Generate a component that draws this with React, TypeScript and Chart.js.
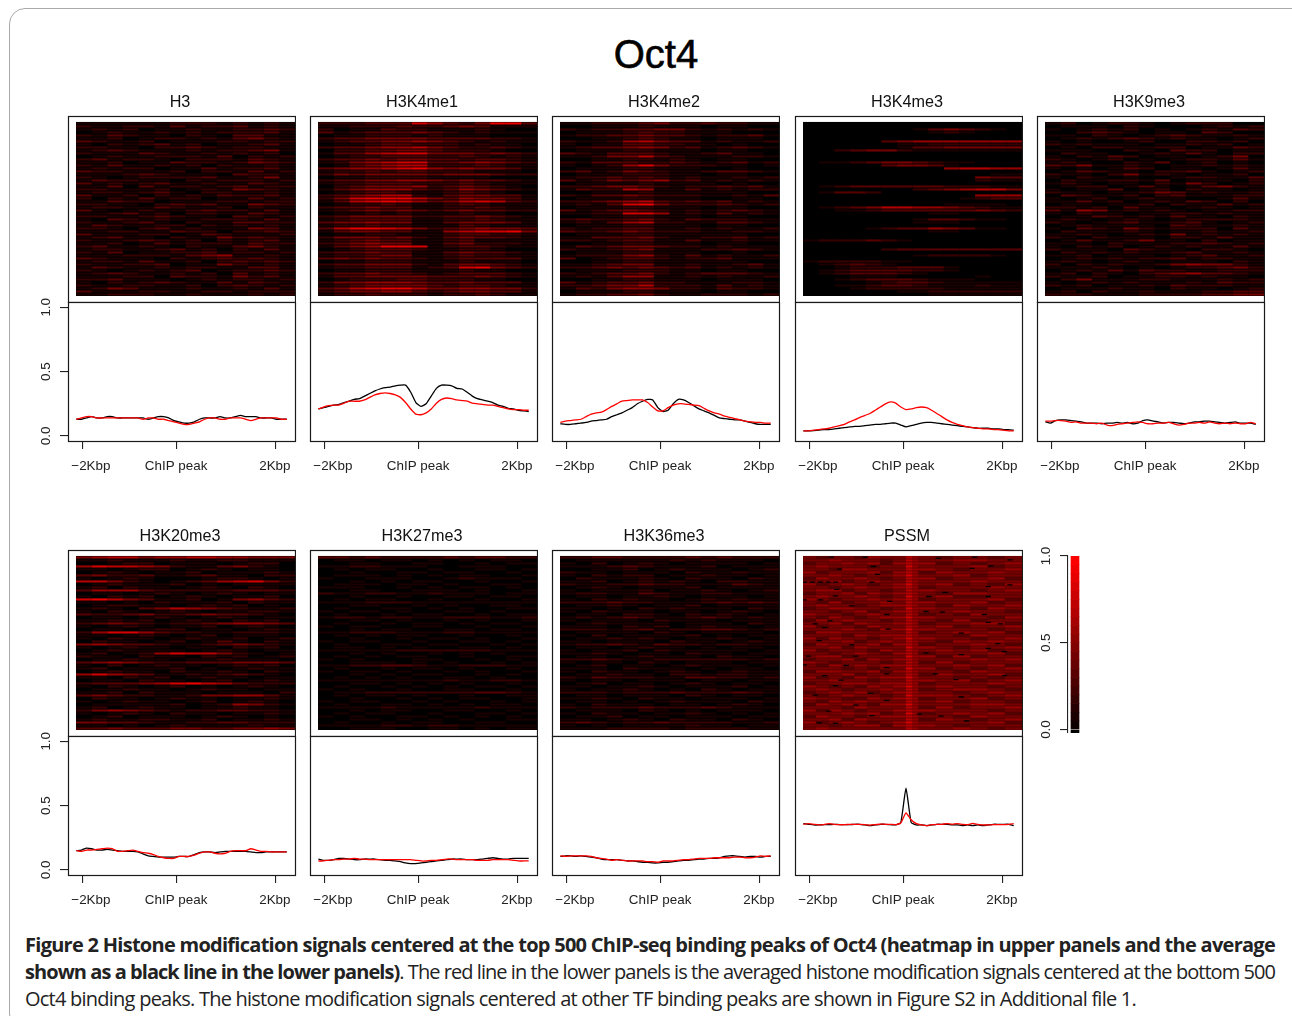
import React, { useEffect, useLayoutEffect, useRef } from "react";
import { Chart, registerables } from "chart.js";

Chart.register(...registerables);
Chart.defaults.font.family = "'Liberation Sans', Arial, sans-serif";
Chart.defaults.color = "#222";

const panelNames = ["H3", "H3K4me1", "H3K4me2", "H3K4me3", "H3K9me3", "H3K20me3", "H3K27me3", "H3K36me3", "PSSM"];
const xTickLabels = ["\u22122Kbp", "ChIP peak", "2Kbp"];
const xTickValues = [-2, -0.06, 2];
const xLabelValues = [-1.82, -0.06, 1.98];
const yTickValues = [0, 0.5, 1];
const levelRed = [0, 26, 54, 84, 116, 148, 180, 210, 235, 255];
const colorbarLevels = [-0.02, 0, 0.05, 0.1, 0.15, 0.2, 0.25, 0.3, 0.35, 0.4, 0.45, 0.5, 0.55, 0.6, 0.65, 0.7, 0.75, 0.8, 0.85, 0.9, 0.95, 1];
const positions = [-2.12, -2.014, -1.908, -1.802, -1.696, -1.59, -1.484, -1.378, -1.272, -1.166, -1.06, -0.954, -0.848, -0.742, -0.636, -0.53, -0.424, -0.318, -0.212, -0.106, 0, 0.106, 0.212, 0.318, 0.424, 0.53, 0.636, 0.742, 0.848, 0.954, 1.06, 1.166, 1.272, 1.378, 1.484, 1.59, 1.696, 1.802, 1.908, 2.014, 2.12, 2.226];

const h3Top = [.13,.13,.14,.15,.14,.14,.15,.15,.14,.14,.14,.14,.14,.14,.13,.14,.15,.15,.14,.12,.11,.10,.10,.11,.13,.14,.14,.14,.15,.14,.14,.15,.16,.15,.15,.15,.14,.14,.14,.13,.13,.13];
const h3Bottom = [.13,.14,.15,.15,.14,.14,.14,.14,.14,.14,.14,.14,.14,.13,.14,.14,.13,.13,.12,.11,.10,.09,.09,.10,.11,.13,.14,.14,.13,.13,.14,.14,.14,.13,.12,.13,.14,.14,.14,.14,.13,.13];
const k4me1Top = [.21,.22,.23,.24,.245,.26,.27,.285,.29,.31,.33,.35,.365,.375,.38,.39,.395,.395,.34,.26,.23,.25,.31,.37,.395,.395,.39,.37,.365,.34,.31,.29,.28,.27,.26,.24,.23,.215,.21,.20,.195,.19];
const k4me1Bottom = [.21,.225,.235,.24,.24,.255,.27,.27,.27,.28,.30,.32,.33,.335,.33,.32,.30,.26,.21,.17,.165,.18,.21,.255,.285,.295,.29,.28,.275,.27,.255,.25,.245,.24,.24,.23,.22,.21,.205,.205,.20,.20];
const k4me2Top = [.095,.09,.09,.095,.10,.105,.115,.12,.125,.13,.15,.165,.18,.20,.22,.25,.27,.285,.28,.22,.19,.20,.25,.285,.28,.26,.235,.21,.195,.18,.16,.14,.135,.13,.125,.125,.115,.105,.095,.09,.09,.09];
const k4me2Bottom = [.105,.115,.12,.125,.13,.15,.17,.18,.185,.205,.23,.25,.27,.275,.28,.28,.28,.26,.225,.195,.195,.22,.24,.25,.25,.245,.24,.235,.215,.195,.18,.17,.155,.145,.135,.125,.115,.11,.105,.105,.10,.10];
const k4me3Top = [.04,.04,.042,.045,.05,.05,.055,.06,.065,.07,.075,.075,.08,.085,.09,.09,.095,.10,.10,.085,.07,.08,.09,.10,.105,.105,.10,.095,.09,.085,.08,.075,.07,.065,.06,.06,.06,.055,.055,.05,.05,.045];
const k4me3Bottom = [.04,.04,.045,.05,.055,.06,.07,.08,.09,.11,.125,.145,.16,.175,.20,.225,.25,.265,.255,.225,.205,.21,.22,.225,.22,.20,.175,.15,.125,.105,.09,.08,.07,.065,.06,.055,.055,.05,.05,.045,.04,.04];
const k9me3Top = [.11,.10,.12,.125,.125,.12,.115,.11,.10,.10,.10,.095,.10,.10,.105,.10,.105,.095,.10,.12,.125,.115,.11,.10,.105,.105,.10,.095,.10,.11,.11,.115,.115,.11,.105,.10,.105,.11,.10,.10,.10,.09];
const k9me3Bottom = [.115,.115,.12,.12,.115,.105,.11,.10,.10,.10,.095,.10,.085,.08,.09,.095,.10,.105,.11,.105,.095,.095,.10,.10,.105,.095,.085,.09,.10,.10,.105,.10,.11,.10,.095,.10,.095,.10,.095,.095,.105,.095];
const k20me3Top = [.15,.155,.17,.165,.155,.155,.16,.155,.15,.145,.145,.145,.14,.125,.11,.105,.10,.10,.10,.10,.105,.105,.105,.12,.135,.14,.14,.135,.14,.145,.145,.145,.145,.145,.14,.135,.135,.14,.14,.14,.14,.14];
const k20me3Bottom = [.15,.145,.155,.155,.16,.165,.17,.165,.145,.145,.15,.155,.145,.135,.13,.12,.105,.095,.09,.09,.105,.105,.105,.115,.13,.14,.14,.13,.125,.13,.145,.15,.15,.15,.165,.155,.145,.145,.14,.14,.14,.14];
const k27me3Top = [.085,.075,.075,.08,.09,.09,.085,.08,.08,.085,.085,.085,.08,.075,.075,.07,.065,.055,.05,.05,.055,.06,.065,.07,.075,.08,.085,.085,.085,.08,.08,.08,.085,.09,.095,.09,.085,.085,.09,.09,.09,.09];
const k27me3Bottom = [.07,.07,.075,.08,.08,.085,.085,.09,.085,.085,.08,.08,.08,.08,.08,.08,.08,.08,.08,.075,.07,.07,.075,.075,.08,.085,.085,.08,.08,.08,.08,.075,.075,.075,.08,.08,.08,.08,.075,.07,.07,.07];
const k36me3Top = [.105,.11,.11,.105,.11,.105,.10,.095,.085,.08,.08,.08,.075,.07,.07,.065,.06,.06,.055,.055,.06,.06,.065,.07,.075,.075,.08,.085,.085,.09,.09,.095,.105,.11,.11,.105,.10,.105,.105,.10,.105,.105];
const k36me3Bottom = [.11,.105,.11,.11,.11,.11,.105,.095,.09,.085,.075,.08,.075,.07,.07,.07,.07,.065,.065,.06,.07,.07,.07,.075,.08,.08,.085,.09,.09,.09,.095,.095,.095,.095,.10,.10,.095,.095,.10,.11,.105,.11];
const pssmTop = [.36,.355,.35,.35,.352,.352,.355,.353,.352,.352,.355,.355,.35,.345,.35,.355,.355,.352,.35,.37,.635,.37,.35,.35,.345,.35,.355,.355,.355,.35,.35,.345,.35,.345,.35,.345,.35,.355,.355,.355,.355,.345];
const pssmBottom = [.355,.36,.355,.35,.353,.36,.355,.352,.352,.355,.355,.355,.352,.348,.352,.357,.355,.355,.352,.365,.443,.39,.36,.35,.345,.352,.355,.355,.36,.355,.36,.355,.352,.362,.355,.35,.35,.352,.352,.352,.355,.36];

const h3Rows = `11111122212121 21122131223121 12120112112232 01211212122231 21321102103311 11201221213421 32112011122122 10212312011231 22110223212211 12321112122341 21113211212120 01211222130212 23122102221321 11201132212432 21311212021121 12122011312231 32211120221312 11123211103221 21012222311241 13221102122212 31212311211321 11303122123122 22111201214321 12212310221121 31120212132231 20213122011312 11322011122122 22110232311432 12211321120211 31012112322131 11231202211321 22112321103212 10321211222131 21123102113322 13211220212121 22102312111431 11221132202232 31112201321112 12311021142321 21123212021231 11201312221322 23112102113421 12211231202131 21301122312212 11122213451121 32111021232321 12213112023232 21122301142121 13211212211331 21012123012232 12321121203121 11122032214231 22311101212212 10212321131321 21122112023212 12431112112131 31112211221222 11222112111212`.split(" ");
const k4me1Rows = `22233375324883 11222322343111 20113221112100 31233343212111 01122212111000 23344443333221 12334454321211 01123322212110 23345564322321 02233443222100 13356774443432 01223332232121 23343443323321 12456773345432 01345662223211 34556785454431 12232332221110 24344443444322 01122221111000 23344554343321 12233322232111 02344452343210 13455532354321 01233211232100 23456621344331 24788864354431 13678753467632 01223211232111 23343311223211 12343432343322 01121211121100 23444422334321 12333311223211 34454411344431 12232211132111 36887642345443 13443311567784 01122111233221 24443421343321 12343311231111 23454411342221 13458871233211 01233321122100 23343311343321 12234411232211 34343321233331 01122211121110 23344421344321 12233312378432 01122211121100 23343321233321 13344443334321 01222332221100 24455543343331 12344443233211 34678864455442 23445532344331 12232221223211`.split(" ");
const k4me2Rows = `11222342232211 00111211101100 21223344212121 01112322111000 12233433212231 00112321101110 21125643312112 10113322110100 12334542312321 01112211101100 32133321123110 11244632111221 00112212101100 21333223212312 10125742221101 01112211100100 23124321123321 01112221101100 12232321211212 31243452312121 01111211110100 22344321223231 13226511312122 00111211111100 21334322211213 01112211100110 22345632323121 12137842223212 01112211101100 31234321212321 11227751213121 00112211101100 23223421322211 12135622113321 01112211101100 21223311212112 32234322211221 01112211111100 11333421122312 22123311311211 00112211101100 13234432212111 21123411122321 01112211100100 12224521312112 30123321223111 00112211111100 11234411211231 22343432312121 01112221101100 21233421233321 12135511212112 00112211101110 31233422111221 22344622213121 13245542213221 01112211101100 12233421122212`.split(" ");
const k4me3Rows = `00000000000000 00000000000000 00000001343210 00000000121000 00000000000000 00000000000000 00000345555555 00000011222222 00000013344444 00234421111111 00000000000000 00000000000000 00000000000000 01123443211000 00000344310000 00000000056655 00000000000000 00000000000011 00000000000433 00000000000211 00000000000000 01233333322211 00000002345664 01332000000000 00000000000555 00000000001233 00000000000000 00000000011110 01234665543211 00112333333432 00000000110000 00000000000000 00000001332110 00000001110000 00000000000000 00001233543110 00000000110000 00000000000000 00000000000000 12223210000000 00000000000000 00000000000000 00000233333333 00000000000000 00000001222210 00000000000000 12222110000000 01232100000000 00122233310000 01233332210000 01233321000000 00011100000100 00123332111000 00001233211111 00112332111211 00012222211111 00000011222222 00000000111111`.split(" ");
const k9me3Rows = `12012210122200 01110210001212 10121201012132 00232101103200 11021012321121 01212321211012 10100120022120 21211101121201 01022112201132 11100210322011 02110012131022 10213201101240 21012010122131 12100213012010 32411210112121 10101320110131 01321102231012 21102412101120 10210100122113 02112213011102 12101102142012 01220131013421 10113012021101 21101124312112 03211202311122 10120121100131 11312012132020 01101120211312 22120311012101 31541212101122 10211011221211 01132121311021 12101210122221 21012311231012 01211110321121 10321421222031 02111210112112 11210121412121 21021110221311 01311241102011 11102111223212 10212012121131 21110321102210 02121211231121 11201110123112 01212122312211 12101210111021 20212112454421 11121010122342 01213132211222 12021023453321 21120112212110 02411122111212 10121211121322 21201121322211 01112110211012 12021121112233 22211122223344`.split(" ");
const k20me3Rows = `45664556655444 11211121122111 00122011101220 57665421134210 11012201210110 01210112011121 34223112311022 10121000122101 66421012356742 01211120101111 12021101210210 35553222223332 01101210121011 10212012101120 78643112014532 11010211120211 01221101212010 12103465432112 10210121011221 32234223433210 01101210121011 11212012102120 23432122345543 10121011201210 01101220110121 25775322112221 11012101201110 10211012112012 02110120131021 45433211234321 10121101102120 01211110121011 12012576642101 21102110212012 01121101121110 34543223334443 10201211012120 12011120101211 01211021121021 57543112123210 11021201211011 01102110120121 23334578653222 10210120101210 01121101211011 11202111011102 34322112445531 02110121101121 10121101201210 01111120125421 12012110112110 24543212233221 10121021101121 01201110121010 12112211201121 44332112233222 11010121111211 33433344334454`.split(" ");
const k27me3Rows = `33232222323322 01101101010110 00110011001011 11221110011100 01011001001101 00100110110010 01110101011001 10011100121110 00101011001001 01110110100110 11100101011010 00110011101001 21122112111011 00100100110110 01011001001001 11122211111111 00110010100110 01001101010011 10110100110100 01001011001011 12212211222112 00110100101001 01001011010110 10110011001001 00101100110110 11222111221111 01010110010010 00100101101001 10110010011010 01001101100101 01101010011010 11111222222111 00101001010100 01010110010011 10100011001010 00111010100101 11223321122211 01001011010010 10110100101001 00101011001010 01010100110100 11111111211221 00110101010010 01001010101101 10100100110010 01122222223321 01011010010011 00100101011001 10110010100101 01001101010110 11112111112111 00101100110010 01011001001101 10100110101010 00110101010011 01001011001100 11112212211111 00111001101011`.split(" ");
const k36me3Rows = `22332222323222 01111112121110 10201210111101 11123211120111 00112012111012 21101110211211 10212201121101 02111210211021 11201212102211 21122322111321 01210111201111 10111201121012 12211321122111 01101121011101 10212110121211 22232211123232 01121011201111 11010212111021 10211101101210 01102210212101 12123211232121 10111021110111 01211110111021 11102120121101 22212312233212 01111021011110 10201111201011 01121210112101 11011102110121 12232132212211 01101211010110 10112021111101 11210110211011 01101211102110 22321122222212 10110210111011 01201101211101 11102111010110 10211012101211 01121102212211 21322211332212 10110111011011 01201101210110 11011210111201 10112101021011 22212223222321 01101110210110 11210211011101 01101012111021 10211101101210 21222322232111 01110210101110 10211011210101 01120110111011 11012102110210 23212232222112 10101111211011 11122221222211`.split(" ");
const pssmRows = `4344354465434434 4454443465445544 3445453565534345 4544434475444534 4435544465543445 5344453565354454 4454344575445344 3544543465534453 4453454465444544 5345434575453435 4434544565344454 4553443465544345 3445354565435544 4544543475453344 5434454565344453 4353445465544534 4544345565435445 3455443475544354 4434534565445443 5443454465343544 4354345575544435 3545443465435344 4453544565344553 5344354465453445 4445435575544434 3554444465345453 4443545565443544 5354434575544345 4445345465435454 3544453565344543 4453544475543445 5344435465454534 4434543565344453 4553444475535344 3445354565444545 5434443465353444 4354545565445453 4443434475534345 3554453565443544 4445344465354453 5343545575443434 4454434465545345 3445545565344454 5434354575454434 4543445465345543 3454534565443454 4345443475554345 5443354565344534 4354544465453443 3545435575444554 4443544465353445 5354344565544434 4445453475345453 3544345565443544 4453544465354345 5345434575444453 4434553565543444 4544444465445434`.split(" ");

const equalColumns = [1, 1, 1, 1, 1, 1, 1, 1, 1, 1, 1, 1, 1, 1];
const pssmColumns = [0.875, 0.875, 0.875, 0.875, 0.875, 0.875, 0.875, 0.875, 0.47, 0.4, 1.18, 1.18, 1.18, 1.18, 1.18, 1.18];
const pssmSpecks = [[2.1,.4],[4.6,.4],[10,.8],[12.7,.4],[15.3,1.3],[2.7,4.4],[5.2,3.5],[12.5,4.1],[13.9,3.3],[5.5,6.1],[.1,8.7],[.7,8.7],[1.3,8.7],[1.9,8.7],[2.4,8.7],[5.1,8.7],[15.3,9.6],[2.5,11.1],[13.7,10.2],[10.5,12.1],[.1,14.6],[1.3,14.6],[2.4,13.3],[6.4,15.1],[9.3,13.5],[13.7,13.5],[3.6,16.6],[6.2,19.5],[9.1,18.5],[10.3,18.7],[13.4,19.5],[2,21.6],[.9,22.6],[1.6,23.9],[6.3,24.4],[13.7,22.1],[14.6,22.6],[11.7,25.7],[1.2,28.2],[3.6,29.6],[14.4,29.2],[13.7,30.8],[.4,33.4],[3.9,33.4],[9.1,32.3],[11.7,32.9],[14.9,31.9],[.1,36.3],[3.2,36.5],[6.2,37.2],[9.8,39.3],[1.6,39.9],[6.2,39.3],[11.3,41.2],[2.4,43.2],[2.8,41.4],[14.9,39.9],[.9,46.4],[5,45.8],[11.7,47],[6.2,48.1],[1.9,51.7],[3.9,49.7],[8.6,52.7],[10.2,53.4],[5.1,53.2],[12.1,55],[2.4,55.8],[1.2,55.6]];

const heatRows = [h3Rows, k4me1Rows, k4me2Rows, k4me3Rows, k9me3Rows, k20me3Rows, k27me3Rows, k36me3Rows, pssmRows];
const topSeries = [h3Top, k4me1Top, k4me2Top, k4me3Top, k9me3Top, k20me3Top, k27me3Top, k36me3Top, pssmTop];
const bottomSeries = [h3Bottom, k4me1Bottom, k4me2Bottom, k4me3Bottom, k9me3Bottom, k20me3Bottom, k27me3Bottom, k36me3Bottom, pssmBottom];

const captionBold1 = "Figure 2 Histone modification signals centered at the top 500 ChIP-seq binding peaks of Oct4 (heatmap in upper panels and the average";
const captionBold2 = "shown as a black line in the lower panels)";
const captionRest2 = ". The red line in the lower panels is the averaged histone modification signals centered at the bottom 500";
const captionLine3 = "Oct4 binding peaks. The histone modification signals centered at other TF binding peaks are shown in Figure S2 in Additional file 1.";

const colLefts = [68, 310, 552, 795, 1037];
const rowTops = [116, 550];
const FRAME_W = 227;
const UP_H = 186;
const LOW_H = 139;
const FONT = "'Liberation Sans', Arial, sans-serif";
const tickFont = { size: 13.4, family: FONT };

const redOf = (level: number) => `rgb(${levelRed[level] || 0},0,0)`;
const fixSize = (size: { width?: number; height?: number }) => (s: any) => {
  if (size.width !== undefined) s.width = size.width;
  if (size.height !== undefined) s.height = size.height;
  s.paddingLeft = 0;
  s.paddingRight = 0;
  s.paddingTop = 0;
  s.paddingBottom = 0;
};

function ChartCanvas({ config, left, top, width, height }: any) {
  const ref = useRef<HTMLCanvasElement>(null);
  useEffect(() => {
    const chart = new Chart(ref.current as HTMLCanvasElement, config);
    return () => chart.destroy();
  }, []);
  return <canvas ref={ref} width={width} height={height} style={{ position: "absolute", left, top, width, height }} />;
}

const quiet = { legend: { display: false }, tooltip: { enabled: false } };
const hidden = { ticks: { display: false }, grid: { display: false }, border: { display: false } };

function heatConfig(index: number) {
  const rows = heatRows[index];
  const widths = index === 8 ? pssmColumns : equalColumns;
  const total = widths.reduce((a, b) => a + b, 0);
  const base = index === 8 ? "#4a0000" : "#000";
  return {
    type: "bar",
    data: {
      labels: rows.map((_, r) => r),
      datasets: widths.map((w, c) => ({
        data: rows.map(() => w),
        backgroundColor: rows.map((row) => redOf(Number(row.charAt(c)))),
        stack: "cells",
        borderWidth: 0,
        barPercentage: index === 8 ? 0.78 : 0.72,
        categoryPercentage: 1,
      })),
    },
    options: {
      indexAxis: "y",
      responsive: false,
      animation: false,
      events: [],
      layout: { padding: { right: 1 } },
      plugins: {
        ...quiet,
        title: {
          display: true,
          text: panelNames[index],
          color: "#111",
          font: { size: 16.2, weight: "normal", family: FONT },
          padding: { top: 6.5, bottom: 10 },
        },
      },
      scales: {
        x: { type: "linear", stacked: true, min: 0, max: total, ...hidden, afterFit: fixSize({ height: 7 }) },
        y: { type: "category", stacked: true, ...hidden, afterFit: fixSize({ width: 11 }) },
      },
    },
    plugins: [{
      id: "frame",
      beforeDatasetsDraw(chart: any) {
        const { ctx, chartArea: a } = chart;
        ctx.save();
        ctx.fillStyle = base;
        ctx.fillRect(a.left, a.top, a.right - a.left, a.bottom - a.top);
        ctx.restore();
      },
      afterDraw(chart: any) {
        const { ctx } = chart;
        ctx.save();
        ctx.strokeStyle = "#1a1a1a";
        ctx.lineWidth = 1.2;
        ctx.strokeRect(3.5, 30.5, FRAME_W, UP_H);
        ctx.restore();
      },
    }],
  };
}

function speckConfig() {
  return {
    type: "scatter",
    data: {
      datasets: [{
        data: pssmSpecks.map(([x, y]) => ({ x, y })),
        pointStyle: "line", pointRadius: 2.6, borderColor: "#000", borderWidth: 1.3, backgroundColor: "#000",
      }],
    },
    options: {
      responsive: false, animation: false, events: [],
      layout: { padding: { right: 1, top: 36 } },
      plugins: quiet,
      scales: {
        x: { type: "linear", min: 0, max: 15.87, ...hidden, afterFit: fixSize({ height: 7 }) },
        y: { type: "linear", min: 0, max: 58, reverse: true, ...hidden, afterFit: fixSize({ width: 11 }) },
      },
    },
  };
}

function lineConfig(index: number, withAxis: boolean) {
  const toPoints = (vals: number[]) => vals.map((v, i) => ({ x: positions[i], y: v }));
  return {
    type: "line",
    data: {
      datasets: [
        { data: toPoints(topSeries[index]), borderColor: "#000", borderWidth: 1.3, pointRadius: 0, order: 2, tension: 0.15, xAxisID: "x", yAxisID: "y" },
        { data: toPoints(bottomSeries[index]), borderColor: "#f00", borderWidth: 1.3, pointRadius: 0, order: 1, tension: 0.15, xAxisID: "x", yAxisID: "y" },
      ],
    },
    options: {
      responsive: false, animation: false, events: [], parsing: false,
      layout: { padding: { right: 2, top: 11 } },
      plugins: quiet,
      scales: {
        x: {
          type: "linear", position: "bottom", min: -2.293, max: 2.397,
          afterBuildTicks: (s: any) => { s.ticks = xTickValues.map((value) => ({ value })); },
          ticks: { display: false, autoSkip: false },
          grid: { drawOnChartArea: false, drawTicks: true, tickLength: 8, color: "#222", lineWidth: 1.1 },
          border: { display: false },
          afterFit: fixSize({ height: 8 }),
        },
        x2: {
          type: "linear", position: "bottom", min: -2.293, max: 2.397,
          afterBuildTicks: (s: any) => { s.ticks = xLabelValues.map((value) => ({ value })); },
          ticks: {
            autoSkip: false, minRotation: 0, maxRotation: 0, padding: 9, color: "#222", font: tickFont,
            callback: (_: any, i: number) => xTickLabels[i],
          },
          grid: { display: false, drawTicks: false },
          border: { display: false },
          afterFit: fixSize({ height: 27 }),
        },
        y: {
          type: "linear", min: -0.039, max: 1.041,
          afterBuildTicks: (s: any) => { s.ticks = yTickValues.map((value) => ({ value })); },
          ticks: {
            display: withAxis,
            autoSkip: false, minRotation: 90, maxRotation: 90, crossAlign: "center", padding: 4, color: "#222", font: tickFont,
            callback: (v: number) => v.toFixed(1),
          },
          grid: { display: withAxis, drawOnChartArea: false, tickLength: 8, color: "#222", lineWidth: 1.1 },
          border: { display: false },
          afterFit: fixSize({ width: 40 }),
        },
      },
    },
    plugins: [{
      id: "frame",
      afterDraw(chart: any) {
        const { ctx, chartArea: a } = chart;
        ctx.save();
        ctx.strokeStyle = "#1a1a1a";
        ctx.lineWidth = 1.2;
        ctx.strokeRect(a.left + 0.5, a.top + 0.5, a.right - a.left, a.bottom - a.top);
        ctx.restore();
      },
    }],
  };
}

function colorbarConfig() {
  const pairs = colorbarLevels.slice(0, -1).map((lo, i) => ({ x: 8, y: [lo, colorbarLevels[i + 1]] }));
  return {
    type: "bar",
    data: {
      datasets: [{
        data: pairs,
        backgroundColor: colorbarLevels.slice(1).map((v) => `rgb(${Math.round(v * 255)},0,0)`),
        barThickness: 8, grouped: false, borderWidth: 0,
      }],
    },
    options: {
      responsive: false, animation: false, events: [],
      layout: { padding: { top: 16, bottom: 13 } },
      plugins: quiet,
      scales: {
        x: { type: "linear", min: 0, max: 12, ...hidden, afterFit: fixSize({ height: 0 }) },
        y: {
          type: "linear", min: -0.02, max: 1,
          afterBuildTicks: (s: any) => { s.ticks = yTickValues.map((value) => ({ value })); },
          ticks: {
            autoSkip: false, minRotation: 90, maxRotation: 90, crossAlign: "center", padding: 4, color: "#222", font: tickFont,
            callback: (v: number) => v.toFixed(1),
          },
          grid: { drawOnChartArea: false, tickLength: 8, color: "#222", lineWidth: 1.1 },
          border: { display: true, color: "#222", width: 1.1 },
          afterFit: fixSize({ width: 38 }),
        },
      },
    },
  };
}

function FitLine({ top, width, children }: any) {
  const ref = useRef<HTMLDivElement>(null);
  useLayoutEffect(() => {
    const el = ref.current as HTMLDivElement;
    el.style.letterSpacing = "0px";
    const natural = el.getBoundingClientRect().width;
    const count = (el.textContent || "").length;
    el.style.letterSpacing = `${(width - natural) / count}px`;
  }, []);
  return (
    <div ref={ref} style={{ position: "absolute", left: 25, top, whiteSpace: "nowrap", fontFamily: "'Open Sans', sans-serif", fontSize: 20, lineHeight: "27px", color: "#222" }}>
      {children}
    </div>
  );
}

export default function App() {
  return (
    <div style={{ position: "absolute", left: 0, top: 0, width: 1292, height: 1016, overflow: "hidden", background: "#fff" }}>
      <div style={{ position: "absolute", left: 9, top: 8, width: 1300, height: 1020, border: "1.3px solid #aaa", borderRadius: 16 }} />
      <div style={{ position: "absolute", left: 556, width: 200, top: 30, textAlign: "center", fontFamily: FONT, fontSize: 40, lineHeight: "48px", color: "#000", WebkitTextStroke: "0.6px #000" }}>Oct4</div>
      {panelNames.map((_, i) => {
        const col = i < 5 ? i : i - 5;
        const row = i < 5 ? 0 : 1;
        const left = colLefts[col];
        const top = rowTops[row];
        return (
          <React.Fragment key={i}>
            <ChartCanvas config={heatConfig(i)} left={left - 3} top={top - 30} width={FRAME_W + 4} height={UP_H + 31} />
            {i === 8 && <ChartCanvas config={speckConfig()} left={left - 3} top={top - 30} width={FRAME_W + 4} height={UP_H + 31} />}
            <ChartCanvas config={lineConfig(i, col === 0)} left={left - 40} top={top + UP_H - 11} width={FRAME_W + 42} height={LOW_H + 46} />
          </React.Fragment>
        );
      })}
      <ChartCanvas config={colorbarConfig()} left={1030} top={540} width={50} height={206} />
      <FitLine top={931} width={1250}><b>{captionBold1}</b></FitLine>
      <FitLine top={958} width={1250}><b>{captionBold2}</b>{captionRest2}</FitLine>
      <FitLine top={985} width={1111}>{captionLine3}</FitLine>
    </div>
  );
}
